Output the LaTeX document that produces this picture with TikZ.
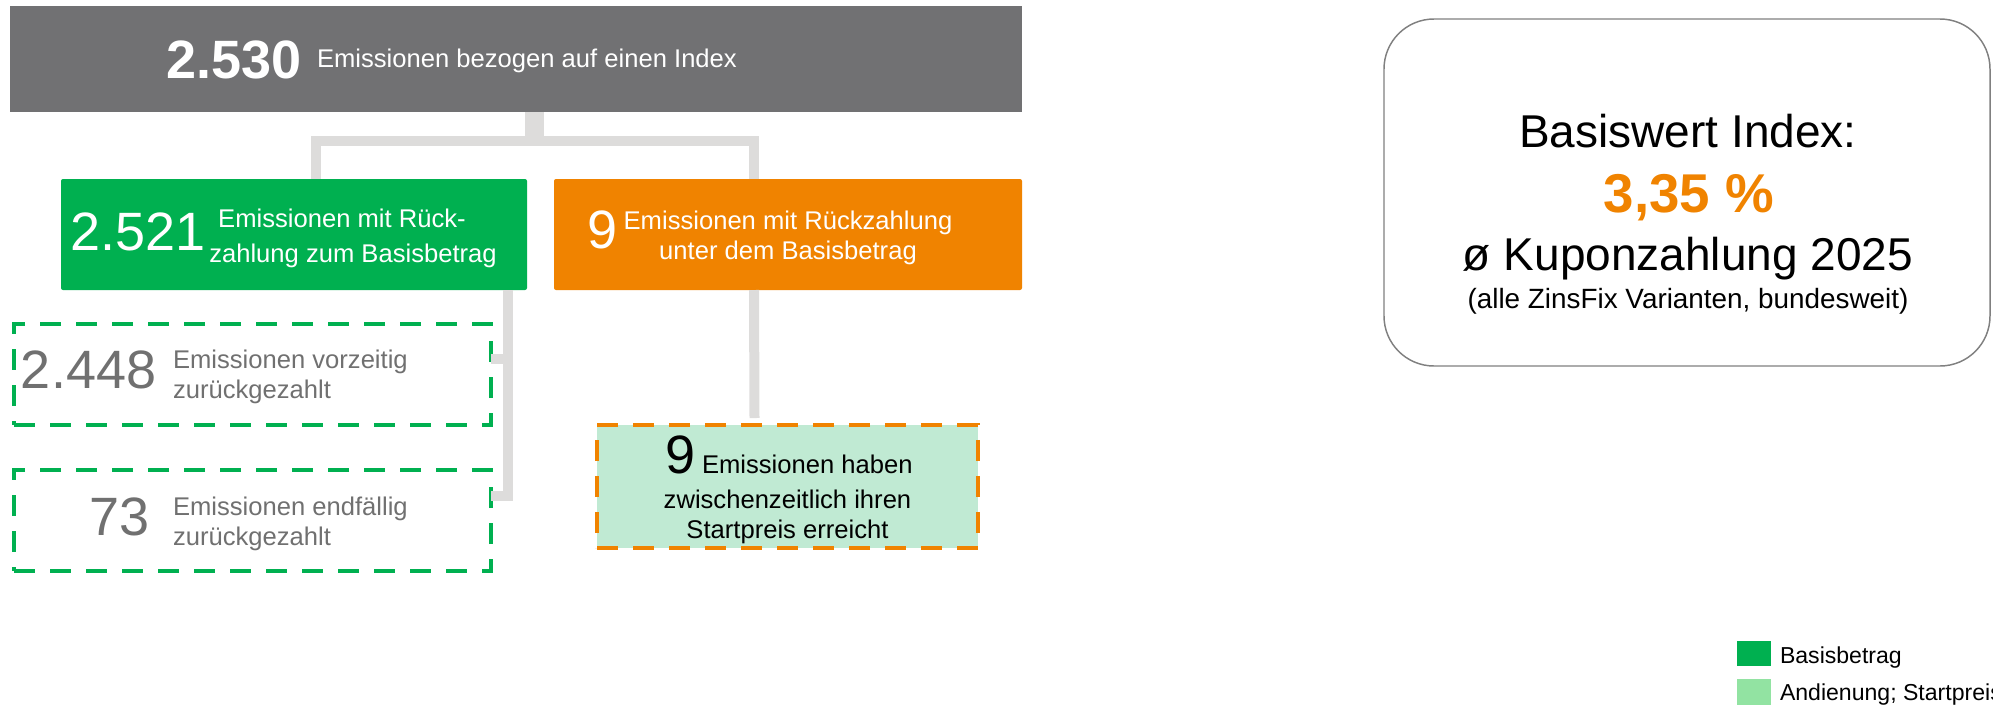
\documentclass[tikz,border=0pt]{standalone}
\usepackage{fontspec}
\setmainfont{Liberation Sans}
\usetikzlibrary{positioning,calc}
\definecolor{topgray}{RGB}{113,113,115}
\definecolor{basisgreen}{RGB}{0,176,80}
\definecolor{unterorange}{RGB}{240,131,0}
\definecolor{startgreen}{RGB}{192,234,211}
\definecolor{leggreen}{RGB}{146,227,162}
\definecolor{linegray}{RGB}{221,220,219}
\definecolor{txtgray}{RGB}{112,112,112}

\begin{document}
\begin{tikzpicture}[x=0.75pt,y=-0.75pt,
	every node/.style={inner sep=0pt,outer sep=0pt},
	num/.style={font=\fontsize{40.5}{40.5}\selectfont,anchor=base west},
	txt/.style={font=\fontsize{19.2}{23}\selectfont,anchor=base west,text height=14.5pt,text depth=4pt},
	dashbox/.style={draw=basisgreen,line width=3.4pt,dash pattern=on 15.75pt off 11.25pt},
	conn/.style={draw=linegray,line width=7.5pt},
	big/.style={font=\fontsize{34.5}{40}\selectfont,anchor=base}]
	\useasboundingbox (0,0) rectangle (1993,704);

	% boxes
	\node[fill=topgray,minimum width=759pt,minimum height=79.5pt] (top) at (516,59) {};
	\node[fill=basisgreen,rounded corners=1.5pt,minimum width=349.5pt,minimum height=83.25pt] (basis) at (294,234.5) {};
	\node[fill=unterorange,rounded corners=1.5pt,minimum width=351pt,minimum height=83.25pt] (unter) at (788,234.5) {};
	\node[dashbox,minimum width=357.75pt,minimum height=75.75pt] (vorz) at (252.5,374.5) {};
	\node[dashbox,minimum width=357.75pt,minimum height=75.75pt] (endf) at (252.5,520.5) {};
	\node[dashbox,draw=unterorange,fill=startgreen,minimum width=285.75pt,minimum height=92.25pt] (start) at (787.5,486.5) {};
	\node[draw=gray,line width=1.1pt,rounded corners=37.5pt,minimum width=454.5pt,minimum height=260.25pt] (kupon) at (1687,192.5) {};

	% connectors
	\draw[conn] ($(top.south)+(14,0)$) -- ++(0,29) -| ($(basis.north)+(22,0)$);
	\draw[conn] ($(top.south)+(23,0)$) -- ++(0,29) -| ($(unter.north)+(-34,0)$);
	\draw[conn] ($(basis.south)+(214,0)$) |- ($(endf.east)+(0,-24.5)$);
	\draw[conn] ($(basis.south)+(214,69)$) -- ($(vorz.east)+(0,-15.5)$);
	\draw[conn] ($(unter.south)+(-34,0)$) -- ($(start.north)+(-33,-7)$);

	% texts
	\node[num,white,font=\fontsize{40.5}{40.5}\selectfont\bfseries] (n2530) at (166,78) {2.530};
	\node[txt,white] (t2530) at (317,67) {Emissionen bezogen auf einen Index};

	\node[num,white] (n2521) at (70,250) {2.521};
	\node[txt,white,anchor=base] (t2521a) at (342,227) {Emissionen mit Rück-};
	\node[txt,white,anchor=base] (t2521b) at (353,262) {zahlung zum Basisbetrag};

	\node[num,white] (n9u) at (587,248) {9};
	\node[txt,white,anchor=base] (t9ua) at (788,229) {Emissionen mit Rückzahlung};
	\node[txt,white,anchor=base] (t9ub) at (788,259) {unter dem Basisbetrag};

	\node[num,txtgray] (n2448) at (21,388) {2.448};
	\node[txt,txtgray] (t2448a) at (173,368) {Emissionen vorzeitig};
	\node[txt,txtgray] (t2448b) at (173,398) {zurückgezahlt};

	\node[num,txtgray] (n73) at (89,535) {73};
	\node[txt,txtgray] (t73a) at (173,515) {Emissionen endfällig};
	\node[txt,txtgray] (t73b) at (173,545) {zurückgezahlt};

	\node[num] (n9s) at (665,473) {9};
	\node[txt] (t9sa) at (702,473) {Emissionen haben};
	\node[txt,anchor=base] (t9sb) at (787.5,508) {zwischenzeitlich ihren};
	\node[txt,anchor=base] (t9sc) at (787.5,538) {Startpreis erreicht};

	\node[big] (kup1) at (1688,147) {Basiswert Index:};
	\node[big,unterorange,font=\fontsize{41}{41}\selectfont\bfseries] (kup2) at (1689,212) {3,35 \%};
	\node[big] (kup3) at (1688,270) {ø Kuponzahlung 2025};
	\node[font=\fontsize{20.9}{24}\selectfont,anchor=base] (kup4) at (1688,308) {(alle ZinsFix Varianten, bundesweit)};

	% legend
	\node[fill=basisgreen,minimum width=25.5pt,minimum height=18.75pt] (lg1) at (1754,653.5) {};
	\node[fill=leggreen,minimum width=25.5pt,minimum height=27pt] (lg2) at (1754,697) {};
	\node[font=\fontsize{17.3}{20}\selectfont,anchor=base west] (lgt1) at (1780,663) {Basisbetrag};
	\node[font=\fontsize{17.3}{20}\selectfont,anchor=base west] (lgt2) at (1780,700) {Andienung; Startpreis};
\end{tikzpicture}
\end{document}
